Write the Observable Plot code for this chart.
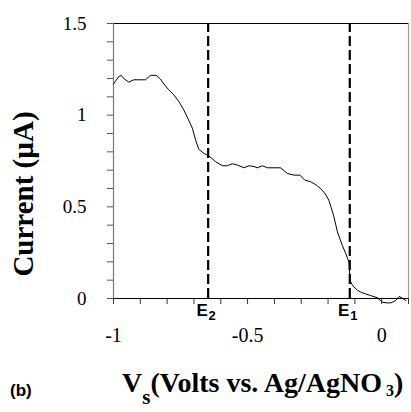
<!DOCTYPE html>
<html>
<head>
<meta charset="utf-8">
<script src="https://cdn.jsdelivr.net/npm/d3@7"></script>
<script src="https://cdn.jsdelivr.net/npm/@observablehq/plot@0.6"></script>
<style>
  html, body { margin: 0; padding: 0; background: #fff; }
  svg { display: block; }
  g[aria-label$="tick label"] text { font-family: "Liberation Serif", "Times New Roman", serif !important; }
</style>
</head>
<body>
<div id="chart"></div>
<script>
// Curve: potential Vs (V) vs current (µA)
const volts = [-1.0, -0.993, -0.981, -0.971, -0.962, -0.943, -0.924, -0.900, -0.881, -0.862, -0.840, -0.825, -0.812, -0.794, -0.775, -0.756, -0.738, -0.723, -0.706, -0.694, -0.682, -0.663, -0.644, -0.619, -0.594, -0.576, -0.557, -0.538, -0.514, -0.495, -0.476, -0.464, -0.445, -0.426, -0.400, -0.377, -0.352, -0.327, -0.305, -0.287, -0.265, -0.245, -0.228, -0.210, -0.197, -0.188, -0.178, -0.165, -0.147, -0.134, -0.122, -0.118, -0.110, -0.103, -0.090, -0.078, -0.060, -0.041, -0.016, 0.002, 0.020, 0.034, 0.052, 0.065, 0.077, 0.090];
const current = [1.17, 1.184, 1.21, 1.217, 1.20, 1.18, 1.193, 1.193, 1.193, 1.217, 1.217, 1.197, 1.17, 1.138, 1.111, 1.074, 1.029, 0.983, 0.929, 0.865, 0.814, 0.792, 0.777, 0.746, 0.724, 0.724, 0.735, 0.728, 0.713, 0.724, 0.72, 0.713, 0.724, 0.713, 0.713, 0.713, 0.682, 0.673, 0.673, 0.646, 0.637, 0.620, 0.600, 0.570, 0.536, 0.495, 0.445, 0.363, 0.29, 0.245, 0.199, 0.099, 0.075, 0.062, 0.045, 0.035, 0.025, 0.016, 0.004, -0.02, -0.024, -0.024, -0.011, 0.011, 0.002, -0.011];

// Reference potentials (dashed lines)
const eNames = ["2", "1"];
const eVolts = [-0.647, -0.119];

// Axis ticks and labels
const xMinor = d3.range(-10, 2).map(i => i / 10);
const xMajor = [-1, -0.5, 0];
const xMajorLabels = ["-1", "-0.5", "0"];
const yMinor = d3.range(0, 16).map(i => i / 10);
const yMajor = [0, 0.5, 1, 1.5];
const yMajorLabels = ["0", "0.5", "1", "1.5"];

const curve = volts.map((v, i) => ({v, c: current[i]}));
const eData = eVolts.map((v, i) => ({v, name: eNames[i]}));

const near = (a, b) => Math.abs(a - b) < 1e-9;
const xFmt = d => { const k = xMajor.findIndex(m => near(m, d)); return k >= 0 ? xMajorLabels[k] : ""; };
const yFmt = d => { const k = yMajor.findIndex(m => near(m, d)); return k >= 0 ? yMajorLabels[k] : ""; };

const serif = "Liberation Serif";
const sans = "Liberation Sans";

const plot = Plot.plot({
  width: 411,
  height: 412,
  marginLeft: 113,
  marginRight: 3,
  marginTop: 23,
  marginBottom: 114,
  style: {fontFamily: serif, fontSize: "19px", background: "#fff", color: "#000"},
  x: {domain: [-1, 0.1]},
  y: {domain: [0, 1.5]},
  marks: [
    Plot.axisX({ticks: xMinor, tickSize: 6, tickPadding: 23, tickFormat: xFmt, label: null, stroke: "#333", fontSize: 20, fontFamily: serif}),
    Plot.axisY({ticks: yMinor, tickSize: 6, tickPadding: 21, tickFormat: yFmt, label: null, stroke: "#555", fontSize: 19, fontFamily: serif}),
    Plot.ruleY([0], {stroke: "#000", strokeWidth: 1.2}),
    Plot.ruleY([1.5], {stroke: "#000", strokeWidth: 1.2}),
    Plot.ruleX([-1], {stroke: "#777", strokeWidth: 1.2}),
    Plot.ruleX([0.1], {stroke: "#999", strokeWidth: 1.2}),
    Plot.ruleX(eData, {x: "v", y1: 0, y2: 1.5, stroke: "#000", strokeWidth: 2.2, strokeDasharray: "10,4"}),
    Plot.line(curve, {x: "v", y: "c", stroke: "#000", strokeWidth: 1, curve: "linear"}),
    Plot.text(eData, {x: "v", text: () => "E", frameAnchor: "bottom", dy: 17, dx: -6, fontFamily: sans, fontWeight: "bold", fontSize: 17}),
    Plot.text(eData, {x: "v", text: "name", frameAnchor: "bottom", dy: 21, dx: 4, fontFamily: sans, fontWeight: "bold", fontSize: 13})
  ]
});

const svg = d3.select(plot);

// Y axis title
svg.append("text")
  .attr("transform", "translate(33,194) rotate(-90)")
  .attr("text-anchor", "middle")
  .attr("font-family", serif)
  .attr("font-weight", "bold")
  .attr("font-size", 29)
  .attr("fill", "#000")
  .text("Current (µA)");

// X axis title with subscripts
const xt = svg.append("text")
  .attr("x", 122).attr("y", 392)
  .attr("text-anchor", "start")
  .attr("font-family", serif)
  .attr("font-weight", "bold")
  .attr("font-size", 28)
  .attr("fill", "#000");
xt.append("tspan").text("V");
xt.append("tspan").attr("dy", 12).attr("font-size", 21).text("s");
xt.append("tspan").attr("dy", -12).text("(Volts vs. Ag/AgNO");
xt.append("tspan").attr("dy", 4).attr("font-size", 16).text(" 3");
xt.append("tspan").attr("dy", -4).text(")");

// Panel label
svg.append("text")
  .attr("x", 10).attr("y", 396)
  .attr("text-anchor", "start")
  .attr("font-family", sans)
  .attr("font-weight", "bold")
  .attr("font-size", 17)
  .attr("fill", "#000")
  .text("(b)");

document.getElementById("chart").appendChild(plot);
</script>
</body>
</html>
